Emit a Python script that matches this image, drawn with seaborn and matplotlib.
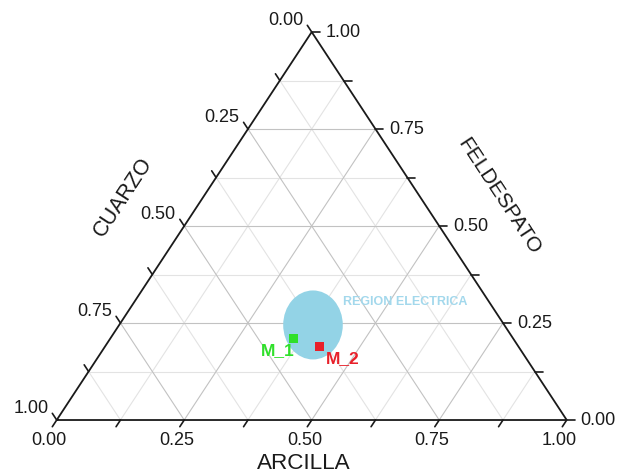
import numpy as np
import pandas as pd
import matplotlib
matplotlib.use("Agg")
import matplotlib.pyplot as plt
from matplotlib.patches import Ellipse
import seaborn as sns

# Sample compositions (fractions)
muestras = ["M_1", "M_2"]
cuarzo = [0.43, 0.39]
feldespato = [0.21, 0.19]
arcilla = [0.36, 0.42]
colores = ["#2fe02a", "#e8202a"]

# Composition at the centre of the electric-porcelain region
region_nombre = "REGION ELECTRICA"
region_cuarzo = 0.375
region_feldespato = 0.245
region_arcilla = 0.38

tick_vals = [0.0, 0.125, 0.25, 0.375, 0.5, 0.625, 0.75, 0.875, 1.0]
tick_labels = {0.0: "0.00", 0.25: "0.25", 0.5: "0.50", 0.75: "0.75", 1.0: "1.00"}
grid_major = [0.25, 0.5, 0.75]
grid_minor = [0.125, 0.375, 0.625, 0.875]

sns.set_style("white")
plt.rcParams["font.family"] = ["Liberation Sans", "DejaVu Sans"]


def tern(q, f, c):
    """Quartz at bottom-left, feldspar at top, clay at bottom-right."""
    q, f, c = np.asarray(q, float), np.asarray(f, float), np.asarray(c, float)
    s = q + f + c
    return (c + 0.5 * f) / s, f / s


fig = plt.figure(figsize=(6.19, 4.76), dpi=100)
ax = fig.add_axes([0, 0, 1, 1])
ax.set_xlim(-0.1112, 1.1025)
ax.set_ylim(-0.1443, 1.0825)
ax.set_axis_off()

# grid lines
for vals, col in ((grid_minor, "#e3e3e3"), (grid_major, "#c2c2c2")):
    for v in vals:
        # constant feldspar (horizontal)
        x, y = tern([1 - v, 0], [v, v], [0, 1 - v])
        ax.plot(x, y, color=col, lw=0.8, zorder=1)
        # constant clay
        x, y = tern([1 - v, 0], [0, 1 - v], [v, v])
        ax.plot(x, y, color=col, lw=0.8, zorder=1)
        # constant quartz
        x, y = tern([v, v], [1 - v, 0], [0, 1 - v])
        ax.plot(x, y, color=col, lw=0.8, zorder=1)

# triangle frame
x, y = tern([1, 0, 0, 1], [0, 1, 0, 0], [0, 0, 1, 0])
ax.plot(x, y, color="#1a1a1a", lw=1.3, zorder=3, solid_joinstyle="miter")

# ticks and tick labels
L = 8.0  # tick length in pixels
pt = 0.72
bdir = np.array([-0.5, -1.0]) * L / 464.3
ldir = np.array([-0.5, 1.0]) * L / 464.3
rdir = np.array([1.0, 0.0]) * L / 510.0
tkw = dict(color="#1a1a1a", lw=1.2, zorder=3)
lkw = dict(textcoords="offset points", fontsize=13, color="#1a1a1a")
for v in tick_vals:
    # ARCILLA (bottom)
    bx, by = tern(1 - v, 0, v)
    ex, ey = bx + bdir[0], by + bdir[1]
    ax.plot([bx, ex], [by, ey], **tkw)
    if v in tick_labels:
        ax.annotate(tick_labels[v], (ex, ey), xytext=(-3 * pt, -5 * pt),
                    ha="center", va="top", **lkw)
    # CUARZO (left)
    bx, by = tern(v, 1 - v, 0)
    ex, ey = bx + ldir[0], by + ldir[1]
    ax.plot([bx, ex], [by, ey], **tkw)
    if v in tick_labels:
        ax.annotate(tick_labels[v], (ex, ey), xytext=(-4 * pt, 0),
                    ha="right", va="baseline", **lkw)
    # FELDESPATO (right)
    bx, by = tern(0, v, 1 - v)
    ex, ey = bx + rdir[0], by + rdir[1]
    ax.plot([bx, ex], [by, ey], **tkw)
    if v in tick_labels:
        ax.annotate(tick_labels[v], (ex, ey), xytext=(6 * pt, 0),
                    ha="left", va="center", **lkw)

# axis titles
tkw2 = dict(textcoords="offset points", color="#1a1a1a",
            ha="center", va="center", rotation_mode="anchor")
ax.annotate("CUARZO", tern(0.5, 0.5, 0), xytext=(-61 * pt, 29 * pt),
            rotation=56.7, fontsize=15.5, **tkw2)
ax.annotate("FELDESPATO", tern(0, 0.5, 0.5), xytext=(60 * pt, 30 * pt),
            rotation=-56.7, fontsize=15, **tkw2)
ax.annotate("ARCILLA", tern(0.5, 0, 0.5), xytext=(-8 * pt, -43 * pt),
            rotation=0, fontsize=16.2, **tkw2)

# electric region
cx, cy = tern(region_cuarzo, region_feldespato, region_arcilla)
ax.add_patch(Ellipse((cx, cy), width=59.6 / 510, height=69 / 388,
                     facecolor="#93d3e6", edgecolor="none", zorder=2))
ax.annotate(region_nombre, (cx, cy), xytext=(30 * pt, 23 * pt),
            textcoords="offset points", ha="left", va="center",
            fontsize=9, fontweight="bold", color="#a3d8ec", zorder=4)

# samples
px, py = tern(cuarzo, feldespato, arcilla)
df = pd.DataFrame({"x": px, "y": py, "muestra": muestras})
sns.scatterplot(data=df, x="x", y="y", hue="muestra", palette=colores,
                marker="s", s=42, edgecolor="none", legend=False, ax=ax,
                zorder=5)
ax.set_xlabel("")
ax.set_ylabel("")
offsets = [((0.5 * pt, -12 * pt), "right"), ((6.5 * pt, -12.5 * pt), "left")]
for xi, yi, name, col, (off, ha) in zip(px, py, muestras, colores, offsets):
    ax.annotate(name, (xi, yi), xytext=off, textcoords="offset points",
                ha=ha, va="center", fontsize=12.5, fontweight="bold",
                color=col, zorder=6)

fig.savefig("out.png", dpi=100, facecolor="white")
